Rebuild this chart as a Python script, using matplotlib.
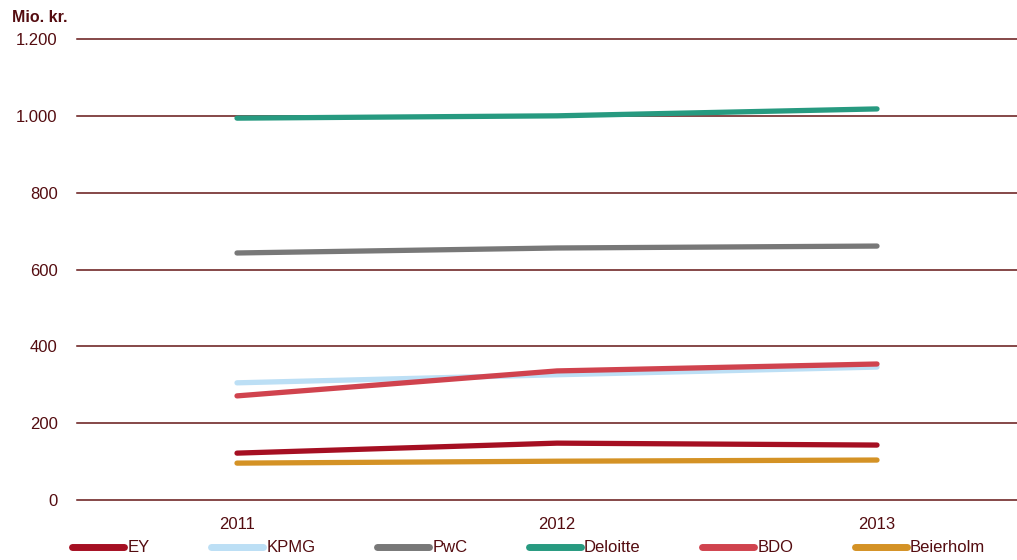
import matplotlib.pyplot as plt

plt.rcParams["font.family"] = ["Liberation Sans", "DejaVu Sans"]

years = ["2011", "2012", "2013"]
firms = ["EY", "KPMG", "PwC", "Deloitte", "BDO", "Beierholm"]
ey = [122, 148, 143]
kpmg = [305, 326, 346]
pwc = [643, 656, 661]
deloitte = [994, 1000, 1018]
bdo = [271, 336, 354]
beierholm = [96, 101, 104]
yticks = [0, 200, 400, 600, 800, 1000, 1200]
ytick_labels = ["0", "200", "400", "600", "800", "1.000", "1.200"]

colors = ["#A50F22", "#BCDFF5", "#787878", "#279A80", "#D0434E", "#D49225"]
text_color = "#540c10"
grid_color = "#641616"

fig = plt.figure(figsize=(10.17, 5.6), dpi=100)
ax = fig.add_axes([77 / 1017, 60 / 560, 940 / 1017, 461 / 560])

x = range(len(years))
for name, vals, c in zip(firms, [ey, kpmg, pwc, deloitte, bdo, beierholm], colors):
    ax.plot(x, vals, color=c, lw=3.8, solid_capstyle="round", label=name)

ax.set_xlim(-0.5, 2.4375)
ax.set_ylim(0, 1200)
ax.set_xticks(list(x))
ax.set_xticklabels(years)
ax.set_yticks(yticks)
ax.set_yticklabels(ytick_labels)
ax.tick_params(axis="both", length=0, labelsize=12, labelcolor=text_color)
ax.tick_params(axis="y", pad=14)
ax.tick_params(axis="x", pad=12)
for s in ax.spines.values():
    s.set_visible(False)
ax.grid(axis="y", color=grid_color, lw=1.1)
ax.set_axisbelow(True)
for gl in ax.get_ygridlines():
    gl.set_clip_on(False)

fig.text(12 / 1017, 1 - 18 / 560, "Mio. kr.", fontsize=11.5, fontweight="bold",
         color=text_color, va="center", ha="left")

leg = fig.legend(loc="center", bbox_to_anchor=(0.52, 1 - 548 / 560), ncol=6,
                 frameon=False, fontsize=12, handlelength=3.1, handletextpad=0.2,
                 columnspacing=3.7, borderaxespad=0)
for t in leg.get_texts():
    t.set_color(text_color)
for h in leg.get_lines():
    h.set_linewidth(5)

fig.savefig("out.png", dpi=100)
